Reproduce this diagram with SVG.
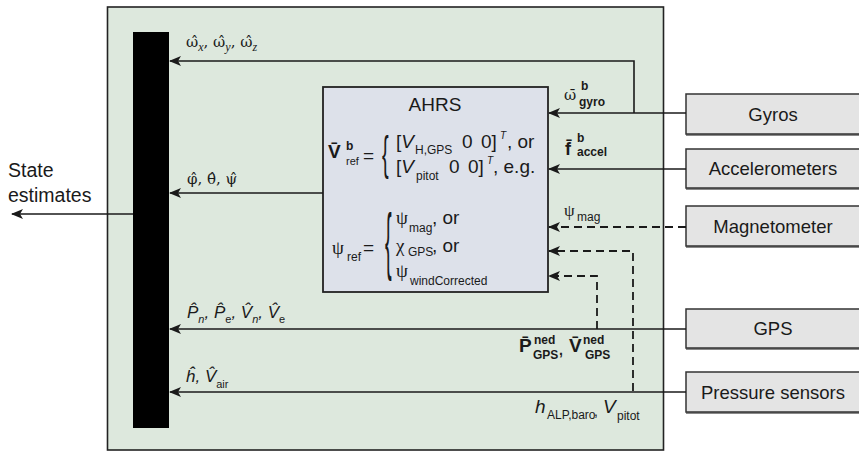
<svg xmlns="http://www.w3.org/2000/svg" width="859" height="452" viewBox="0 0 859 452">
<defs>
<marker id="ah" markerWidth="12" markerHeight="10" refX="11" refY="5" orient="auto" markerUnits="userSpaceOnUse">
<path d="M0,0 L12,5 L0,10 L3,5 z" fill="#1a1a1a"/>
</marker>
<style>
.s{font-family:"Liberation Sans","DejaVu Sans",sans-serif;fill:#1a1a1a}
.g{font-family:"Liberation Serif","DejaVu Serif",serif;fill:#1a1a1a}
.d{font-family:"DejaVu Serif",serif;fill:#1a1a1a}
.ln{fill:none;stroke:#1a1a1a;stroke-width:1.6}
.ds{fill:none;stroke:#1a1a1a;stroke-width:1.8;stroke-dasharray:8,5}
.sensor{fill:#e4e4e4;stroke:#333;stroke-width:1.5}
.shadow{fill:#888}
.lbl{font-size:18.5px;text-anchor:middle}
.sub{font-size:12px}
</style>
</defs>
<rect width="859" height="452" fill="#ffffff"/>
<g id="frame">
<rect x="107.5" y="7" width="556" height="443" fill="#dde8dd" stroke="#222" stroke-width="1.6"/>
</g>
<g id="bar">
<rect x="133" y="32" width="36" height="396" fill="#000"/>
</g>
<g id="ahrs">
<rect x="323" y="87" width="225" height="205" fill="#dde1ea" stroke="#222" stroke-width="1.8"/>
<text class="s" x="435" y="111" font-size="19" text-anchor="middle">AHRS</text>
<text class="s" x="328" y="158" font-size="19" font-weight="bold">V̄</text>
<text class="s" x="346" y="150" font-size="12" font-weight="bold">b</text>
<text class="s" x="346" y="165" font-size="11">ref</text>
<text class="s" x="363" y="162" font-size="19">=</text>
<text class="s" transform="translate(382,169) scale(1,2.3)" font-size="20">{</text>
<text class="s" x="396" y="148" font-size="19">[<tspan font-style="italic">V</tspan></text>
<text class="s sub" x="415" y="154">H,GPS</text>
<text class="s" x="462" y="148" font-size="19">0</text>
<text class="s" x="481" y="148" font-size="19">0]</text>
<text class="s" x="500" y="139" font-size="10" font-style="italic">T</text>
<text class="s" x="507" y="148" font-size="19">, or</text>
<text class="s" x="396" y="173" font-size="19">[<tspan font-style="italic">V</tspan></text>
<text class="s sub" x="416" y="180">pitot</text>
<text class="s" x="449" y="173" font-size="19">0</text>
<text class="s" x="468" y="173" font-size="19">0]</text>
<text class="s" x="487" y="164" font-size="10" font-style="italic">T</text>
<text class="s" x="493" y="173" font-size="19">, e.g.</text>
<text class="g" x="332" y="254" font-size="19">ψ</text>
<text class="s sub" x="347" y="261">ref</text>
<text class="s" x="363" y="254" font-size="19">=</text>
<text class="s" transform="translate(385,266) scale(1,3.7)" font-size="20">{</text>
<text class="g" x="396" y="224" font-size="19">ψ</text>
<text class="s sub" x="409" y="232">mag</text>
<text class="s" x="432" y="224" font-size="19">, or</text>
<text class="g" x="396" y="252" font-size="19">χ</text>
<text class="s sub" x="408" y="256">GPS</text>
<text class="s" x="432" y="252" font-size="19">, or</text>
<text class="g" x="396" y="277" font-size="19">ψ</text>
<text class="s sub" x="410" y="285">windCorrected</text>
</g>
<g id="gyros">
<rect class="shadow" x="686" y="96" width="176" height="40"/>
<rect class="sensor" x="686" y="94" width="176" height="40"/>
<text class="s lbl" x="773" y="121">Gyros</text>
</g>
<g id="accelerometers">
<rect class="shadow" x="686" y="151" width="176" height="39"/>
<rect class="sensor" x="686" y="149" width="176" height="39"/>
<text class="s lbl" x="773" y="175">Accelerometers</text>
</g>
<g id="magnetometer">
<rect class="shadow" x="686" y="208" width="176" height="40"/>
<rect class="sensor" x="686" y="206" width="176" height="40"/>
<text class="s lbl" x="773" y="233">Magnetometer</text>
</g>
<g id="gps">
<rect class="shadow" x="686" y="311" width="176" height="39"/>
<rect class="sensor" x="686" y="309" width="176" height="39"/>
<text class="s lbl" x="773" y="335">GPS</text>
</g>
<g id="pressure">
<rect class="shadow" x="686" y="374" width="176" height="40"/>
<rect class="sensor" x="686" y="372" width="176" height="40"/>
<text class="s lbl" x="773" y="399">Pressure sensors</text>
</g>
<g id="connectors">
<path class="ln" d="M634,113 V61 H170" marker-end="url(#ah)"/>
<path class="ln" d="M686,113 H549" marker-end="url(#ah)"/>
<path class="ln" d="M686,169 H549" marker-end="url(#ah)"/>
<path class="ds" d="M686,227 H549" marker-end="url(#ah)"/>
<path class="ds" d="M633,391 V251 H549" marker-end="url(#ah)"/>
<path class="ds" d="M597,329 V276 H549" marker-end="url(#ah)"/>
<path class="ln" d="M323,193 H170" marker-end="url(#ah)"/>
<path class="ln" d="M686,329 H170" marker-end="url(#ah)"/>
<path class="ln" d="M686,392 H170" marker-end="url(#ah)"/>
<path class="ln" d="M133,214 H12" marker-end="url(#ah)"/>
</g>
<g id="labels">
<text class="s" x="8" y="177" font-size="19.5">State</text>
<text class="s" x="8" y="202" font-size="19.5">estimates</text>
<text class="d" x="186" y="47" font-size="15">ω̂<tspan class="g" font-style="italic" font-size="12" dy="4">x</tspan><tspan dy="-4">, ω̂</tspan><tspan class="g" font-style="italic" font-size="12" dy="4">y</tspan><tspan dy="-4">, ω̂</tspan><tspan class="g" font-style="italic" font-size="12" dy="4">z</tspan></text>
<text class="d" x="187" y="184" font-size="15">φ̂, θ̂, ψ̂</text>
<text class="s" x="187" y="318" font-size="17" font-style="italic">P̂<tspan font-size="11" dy="5">n</tspan><tspan dy="-5">, P̂</tspan><tspan font-size="11" font-style="normal" dy="5">e</tspan><tspan dy="-5">, V̂</tspan><tspan font-size="11" dy="5">n</tspan><tspan dy="-5">, V̂</tspan><tspan font-size="11" font-style="normal" dy="5">e</tspan></text>
<text class="s" x="186" y="382" font-size="17" font-style="italic">ĥ, V̂<tspan font-size="11" font-style="normal" dy="6">air</tspan></text>
<text class="d" x="564" y="100" font-size="15">ω̄</text>
<text class="s" x="581" y="90" font-size="12" font-weight="bold">b</text>
<text class="s" x="579" y="106" font-size="12" font-weight="bold">gyro</text>
<text class="s" x="565" y="155" font-size="18" font-weight="bold">f̄</text>
<text class="s" x="577" y="142" font-size="12" font-weight="bold">b</text>
<text class="s" x="577" y="156" font-size="12" font-weight="bold">accel</text>
<text class="g" x="564" y="216" font-size="17">ψ</text>
<text class="s" x="577" y="221" font-size="12">mag</text>
<text class="s" x="519" y="352" font-size="19" font-weight="bold">P̄</text>
<text class="s" x="534" y="344" font-size="12" font-weight="bold">ned</text>
<text class="s" x="533" y="359" font-size="12" font-weight="bold">GPS</text>
<text class="s" x="559" y="355" font-size="14" font-weight="bold">,</text>
<text class="s" x="569" y="352" font-size="19" font-weight="bold">V̄</text>
<text class="s" x="583" y="344" font-size="12" font-weight="bold">ned</text>
<text class="s" x="585" y="359" font-size="12" font-weight="bold">GPS</text>
<text class="s" x="535" y="413" font-size="19" font-style="italic">h</text>
<text class="s" x="547" y="419" font-size="12">ALP,baro</text>
<text class="s" x="594" y="416" font-size="14">,</text>
<text class="s" x="603" y="413" font-size="19" font-style="italic">V</text>
<text class="s" x="617" y="420" font-size="12">pitot</text>
</g>
</svg>
